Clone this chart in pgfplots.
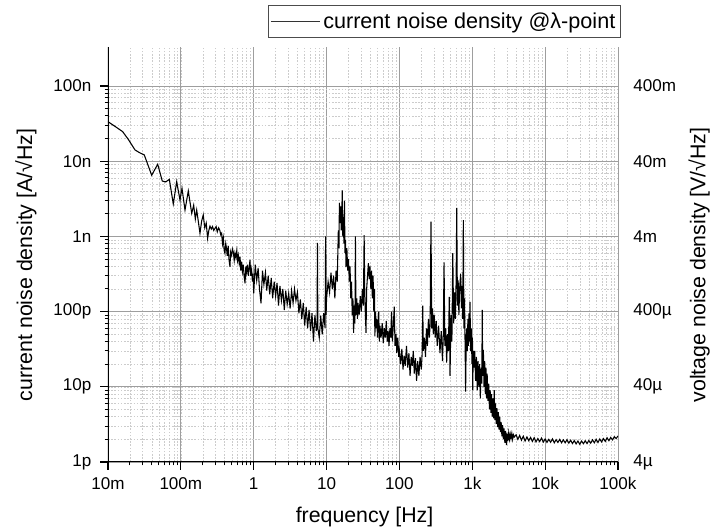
\documentclass[border=0pt]{standalone}
\usepackage{fontspec}
\setmainfont{Liberation Sans}
\usepackage{pgfplots}
\pgfplotsset{compat=1.18}

\definecolor{majgrid}{gray}{0.62}
\definecolor{mingrid}{gray}{0.80}

\begin{document}
\begin{tikzpicture}
\useasboundingbox (-81pt,-51.75pt) rectangle (452.25pt,346.5pt);
\begin{axis}[
  at={(0,0)}, anchor=south west,
  scale only axis,
  width=382.5pt, height=311.25pt,
  xmode=log, ymode=log,
  xmin=0.01, xmax=100000,
  ymin=1, ymax=330000,
  axis line style={draw=none},
  xtick pos=left, ytick pos=left,
  xtick align=outside, ytick align=outside,
  major tick length=6pt, minor tick length=2.6pt,
  every major tick/.append style={black, line width=0.8pt},
  every minor tick/.append style={black, line width=0.7pt},
  xtick={0.01,0.1,1,10,100,1000,10000,100000},
  xticklabels={10m,100m,1,10,100,1k,10k,100k},
  ytick={1,10,100,1000,10000,100000},
  yticklabels={1p,10p,100p,1n,10n,100n},
  grid=both,
  major grid style={majgrid, line width=0.6pt},
  minor grid style={mingrid, dash pattern=on 1.2pt off 1.2pt, line width=0.4pt},
  tick label style={font=\fontsize{12.8}{14}\selectfont},
  xticklabel style={yshift=-2pt},
  yticklabel style={xshift=-3pt},
  label style={font=\fontsize{16}{19}\selectfont},
  xlabel={frequency [Hz]},
  ylabel={current noise density [A/√Hz]},
  xlabel style={at={(axis description cs:0.503,-0.1325)}, anchor=center},
  ylabel style={at={(axis description cs:-0.161,0.475)}, anchor=center},
  legend style={at={(axis description cs:1.006,1.101)}, anchor=north east,
    draw=black!70, line width=0.6pt, font=\fontsize{16.2}{19}\selectfont,
    inner xsep=2pt, inner ysep=3.5pt},
  legend image code/.code={\draw[black!80, line width=0.5pt] (0pt,0pt) -- (37pt,0pt);},
]
\addplot[black, line width=0.8pt] coordinates {
 (0.0100,33500) (0.0125,29000) (0.0159,24700) (0.0190,19500) (0.0235,14100)
 (0.0270,13000) (0.0315,12100) (0.0398,6500) (0.0481,9100) (0.0556,5450)
 (0.0620,5300) (0.0695,5740) (0.0787,2700) (0.0877,5340) (0.0973,3050)
 (0.1037,4360) (0.114,2240) (0.1265,4020) (0.141,2030) (0.150,2600)
 (0.158,1700) (0.165,2240) (0.175,1500) (0.183,1100) (0.193,1600)
 (0.203,1930) (0.213,1300) (0.223,1500) (0.233,944) (0.242,1200)
 (0.251,1370) (0.262,1250) (0.272,1350) (0.283,1200) (0.294,1280)
 (0.305,1350) (0.316,1150) (0.330,1300) (0.343,1200) (0.353,1050)
 (0.363,1100) (0.373,800) (0.383,950) (0.393,650) (0.403,596)
 (0.413,800) (0.423,700) (0.433,550) (0.447,750) (0.457,500)
 (0.472,395) (0.482,620) (0.497,560) (0.510,680) (0.525,620)
 (0.540,480) (0.553,600) (0.570,520) (0.585,640) (0.600,480)
 (0.615,560) (0.632,440) (0.649,537) (0.665,350) (0.680,460)
 (0.700,340) (0.720,420) (0.740,290) (0.760,238) (0.780,400)
 (0.800,330) (0.820,420) (0.845,300) (0.865,380) (0.889,485)
 (0.910,300) (0.935,360) (0.960,250) (0.980,320)
 (1.00,175) (1.05,420) (1.10,260) (1.15,380) (1.20,200) (1.26,129)
 (1.32,350) (1.38,230) (1.45,330) (1.51,190) (1.58,300) (1.66,170)
 (1.74,280) (1.82,150) (1.91,250) (2.00,160) (2.09,240) (2.19,120)
 (2.29,220) (2.40,140) (2.51,200) (2.63,105) (2.75,190) (2.88,125)
 (3.02,175) (3.16,110) (3.31,190) (3.47,130) (3.63,200) (3.80,140)
 (3.98,180) (4.17,95) (4.37,145) (4.57,80) (4.79,130) (5.01,65)
 (5.25,115) (5.50,60) (5.75,105) (6.03,55) (6.31,95) (6.61,40)
 (6.92,90) (7.24,55) (7.40,70) (7.50,820) (7.60,60) (7.94,45)
 (8.32,88) (8.71,50) (9.12,95) (9.55,60) (9.70,1000) (9.85,90)
 (10.0,150) (10.5,250) (11.0,180) (11.5,330) (12.0,200) (12.5,300)
 (13.0,150) (13.5,350) (14.0,250) (14.5,1200) (14.8,700) (15.0,2800)
 (15.3,1500) (15.6,2500) (15.9,1200) (16.2,2000) (16.4,4100) (16.7,1000)
 (17.0,1800) (17.3,800) (17.6,3000) (17.9,600) (18.2,900) (18.5,390)
 (19.0,700) (19.5,350) (20.0,500) (20.5,250) (21.0,400) (21.5,150)
 (22.0,250) (22.5,90) (23.0,150) (23.5,52) (24.0,120) (24.5,70)
 (24.9,1000) (25.3,90) (26.0,150) (26.5,80) (27.0,130) (28.0,90)
 (29.0,160) (30.0,100) (31.0,200) (32.0,120) (32.8,1040) (33.5,150)
 (34.8,52) (35.5,200) (36.5,300) (37.5,440) (38.5,270) (39.5,400)
 (40.5,200) (41.5,350) (42.5,150) (43.5,300) (44.5,100) (45.5,200)
 (46.0,47) (47.0,100) (48.0,60) (49.0,80) (50.0,45) (51.0,70)
 (52.0,100) (53.0,40) (54.0,65) (56.0,45) (58.0,70) (60.0,38)
 (62.0,60) (64.0,45) (66.0,75) (68.0,40) (70.0,55) (72.0,35)
 (74.0,60) (76.0,45) (78.0,100) (80.0,40) (82.0,60) (85.0,116)
 (87.0,35) (90.0,50) (92.0,28) (95.0,45) (98.0,25)
 (100,30) (104,20) (108,32) (112,17) (116,26) (120,19) (125,35) (130,18)
 (135,28) (140,14) (145,25) (150,19) (155,30) (160,15) (166,24) (172,12)
 (178,22) (185,14) (192,25) (200,17) (205,28) (209,120) (213,30) (220,45)
 (228,25) (235,60) (242,35) (250,80) (258,45) (264,70) (271,1570) (278,60)
 (285,110) (292,50) (300,90) (310,45) (320,75) (330,35) (345,65) (360,28)
 (375,55) (390,22) (400,50) (410,450) (420,35) (433,60) (445,21) (458,50)
 (470,30) (483,157) (495,14) (510,90) (525,40) (540,600) (555,70) (570,180)
 (585,80) (600,250) (612,2400) (625,120) (640,260) (655,90) (670,200) (692,320)
 (710,110) (725,220) (740,80) (754,1650) (768,60) (782,150) (796,40) (810,8.6)
 (825,40) (840,60) (855,30) (870,80) (885,35) (900,95) (915,40) (930,135)
 (950,30) (970,60) (990,20) (1005,45) (1015,9) (1030,30)
 (1050,18) (1080,30) (1110,12) (1140,25) (1170,9) (1200,22) (1230,10)
 (1260,20) (1290,7) (1320,18) (1350,11) (1370,105) (1390,14) (1420,31)
 (1450,10) (1480,22) (1510,8) (1540,18) (1570,7) (1600,15) (1640,6.5)
 (1680,11) (1720,5) (1760,9) (1800,4.5) (1840,8) (1880,4) (1920,7)
 (1960,3.8) (2000,9) (2040,3.6) (2080,6) (2130,3.2) (2180,5.2) (2230,2.9)
 (2280,4.6) (2330,2.7) (2380,4.0) (2430,2.5) (2490,3.4) (2550,2.2) (2610,3.1)
 (2670,2.0) (2730,2.8) (2800,1.8) (2870,2.6) (2940,1.68) (3010,2.4) (3080,1.9)
 (3160,2.45) (3240,2.0) (3320,2.35) (3400,2.05) (3490,2.4) (3580,2.0) (3670,2.3)
 (3770,2.15) (4000,2.3) (4220,2.0) (4470,2.25) (4730,1.95) (5010,2.2)
 (5310,1.9) (5620,2.15) (5960,1.92) (6310,2.12) (6680,1.88) (7080,2.1)
 (7500,1.85) (7940,2.05) (8410,1.87) (8910,2.08) (9440,1.84) (10000,2.02)
 (10590,1.82) (11220,2.0) (11890,1.83) (12590,2.03) (13340,1.8) (14130,1.98)
 (14960,1.82) (15850,2.0) (16790,1.8) (17780,1.97) (18840,1.8) (19950,1.98)
 (21130,1.78) (22390,1.95) (23710,1.76) (25120,1.93) (26610,1.74) (28180,1.9)
 (29850,1.72) (31620,1.9) (33500,1.75) (35480,1.92) (37580,1.76) (39810,1.93)
 (42170,1.78) (44670,1.97) (47320,1.8) (50120,2.0) (53090,1.82) (56230,2.02)
 (59570,1.85) (63100,2.05) (66830,1.88) (70790,2.1) (74990,1.92) (79430,2.12)
 (84140,1.97) (89130,2.17) (94410,2.05) (100000,2.22)
};
\addlegendentry{current noise density @λ-point}
\draw[black, line width=0.8pt] (rel axis cs:0,1) -- (rel axis cs:0,0) -- (rel axis cs:1,0);
\end{axis}

\begin{axis}[
  at={(0,0)}, anchor=south west,
  scale only axis,
  width=382.5pt, height=311.25pt,
  xmode=log, ymode=log,
  xmin=0.01, xmax=100000,
  ymin=1, ymax=330000,
  axis x line=none, axis y line*=right,
  y axis line style={draw=none},
  ytick style={draw=none},
  ytick={1,10,100,1000,10000,100000},
  yticklabels={4µ,40µ,400µ,4m,40m,400m},
  tick label style={font=\fontsize{12.8}{14}\selectfont},
  yticklabel style={xshift=8pt},
  label style={font=\fontsize{16}{19}\selectfont},
  ylabel={voltage noise density [V/√Hz]},
  ylabel style={at={(axis description cs:1.159,0.475)}, anchor=center},
]
\end{axis}
\end{tikzpicture}
\end{document}
